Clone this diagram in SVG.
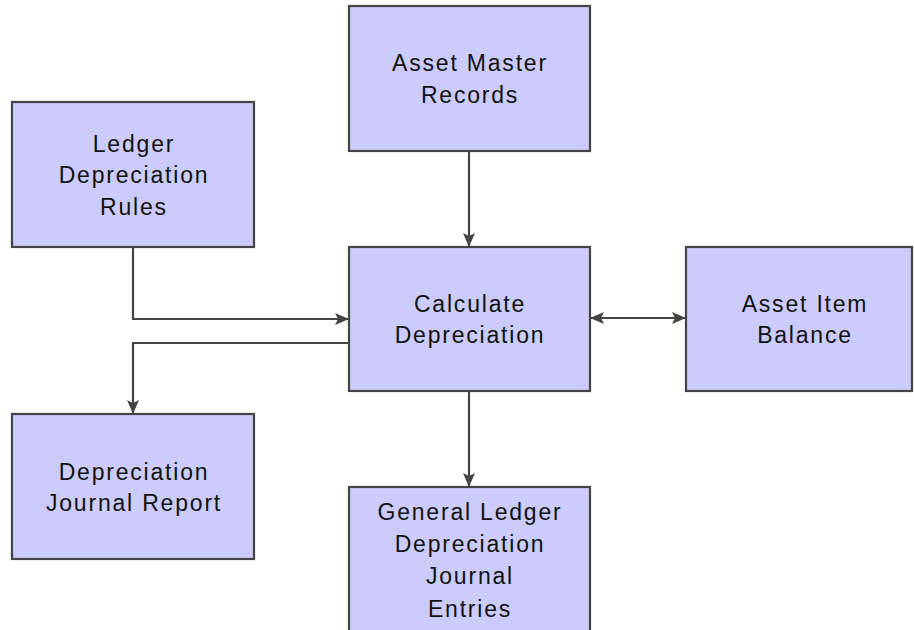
<svg xmlns="http://www.w3.org/2000/svg" width="914" height="630" viewBox="0 0 914 630">
<style>
.box{fill:#ccccfc;stroke:#444;stroke-width:2.2}
.lbl{font-family:"Liberation Sans",Arial,sans-serif;font-size:23px;letter-spacing:1.8px;fill:#111;text-anchor:middle}
.ln{fill:none;stroke:#444;stroke-width:2.2}
</style>
<defs>
<marker id="ah" markerUnits="userSpaceOnUse" markerWidth="14" markerHeight="12" viewBox="0 0 14 12" refX="13" refY="6" orient="auto-start-reverse">
<path d="M0,0 L14,6 L0,12 L3,6 Z" fill="#444"/>
</marker>
</defs>
<rect width="914" height="630" fill="#fff"/>
<g id="connectors">
<path class="ln" d="M469,151 V246" marker-end="url(#ah)"/>
<path class="ln" d="M133,247 V319 H348" marker-end="url(#ah)"/>
<path class="ln" d="M349,343 H133 V413" marker-end="url(#ah)"/>
<path class="ln" d="M591,318 H685" marker-start="url(#ah)" marker-end="url(#ah)"/>
<path class="ln" d="M469,391 V486" marker-end="url(#ah)"/>
</g>
<g id="asset-master">
<rect class="box" x="349" y="6" width="241" height="145"/>
<text class="lbl" x="470" y="71">Asset Master</text>
<text class="lbl" x="470" y="103">Records</text>
</g>
<g id="ledger-rules">
<rect class="box" x="12" y="102" width="242" height="145"/>
<text class="lbl" x="134" y="152">Ledger</text>
<text class="lbl" x="134" y="183">Depreciation</text>
<text class="lbl" x="134" y="215">Rules</text>
</g>
<g id="calculate">
<rect class="box" x="349" y="247" width="241" height="144"/>
<text class="lbl" x="470" y="312">Calculate</text>
<text class="lbl" x="470" y="343">Depreciation</text>
</g>
<g id="asset-item">
<rect class="box" x="686" y="247" width="226" height="144"/>
<text class="lbl" x="805" y="312">Asset Item</text>
<text class="lbl" x="805" y="343">Balance</text>
</g>
<g id="journal-report">
<rect class="box" x="12" y="414" width="242" height="145"/>
<text class="lbl" x="134" y="480">Depreciation</text>
<text class="lbl" x="134" y="511">Journal Report</text>
</g>
<g id="gl-entries">
<rect class="box" x="349" y="487" width="241" height="160"/>
<text class="lbl" x="470" y="520">General Ledger</text>
<text class="lbl" x="470" y="552">Depreciation</text>
<text class="lbl" x="470" y="584">Journal</text>
<text class="lbl" x="470" y="617">Entries</text>
</g>
</svg>
